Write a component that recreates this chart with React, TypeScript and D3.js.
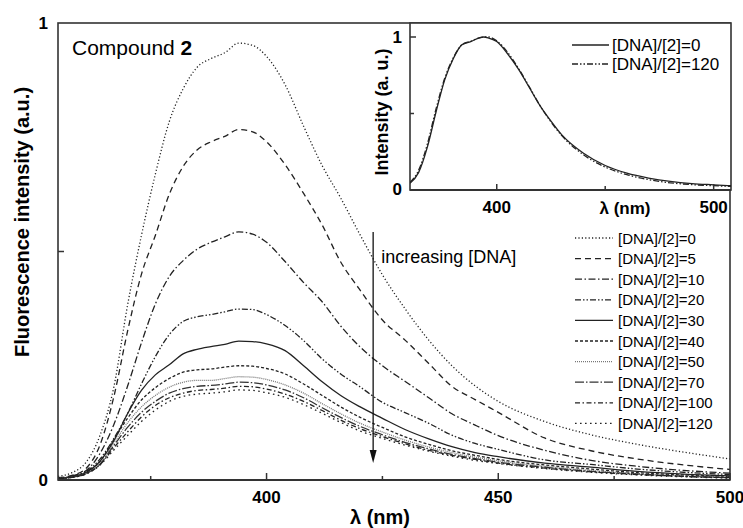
import React from 'react';
import * as d3 from 'd3';

// ---------- data ----------
const wavelengths = [355, 358, 361, 364, 367, 370, 373, 376, 379, 382, 385, 388, 391, 394, 397, 400, 404, 408, 412, 416, 420, 425, 430, 435, 440, 445, 450, 460, 470, 480, 490, 500];
const ratioLabels = ['0', '5', '10', '20', '30', '40', '50', '70', '100', '120'];
const r0 = [0.008, 0.016, 0.038, 0.096, 0.201, 0.382, 0.535, 0.669, 0.784, 0.856, 0.903, 0.922, 0.935, 0.956, 0.951, 0.927, 0.865, 0.774, 0.688, 0.617, 0.540, 0.449, 0.373, 0.306, 0.250, 0.206, 0.172, 0.128, 0.099, 0.078, 0.061, 0.046];
const r5 = [0.005, 0.010, 0.025, 0.075, 0.180, 0.325, 0.450, 0.535, 0.625, 0.686, 0.722, 0.740, 0.752, 0.767, 0.762, 0.740, 0.690, 0.627, 0.558, 0.477, 0.418, 0.350, 0.305, 0.255, 0.205, 0.176, 0.148, 0.092, 0.064, 0.046, 0.033, 0.023];
const r10 = [0.004, 0.009, 0.020, 0.057, 0.120, 0.205, 0.300, 0.385, 0.445, 0.480, 0.505, 0.520, 0.532, 0.543, 0.538, 0.520, 0.478, 0.432, 0.390, 0.337, 0.293, 0.250, 0.215, 0.180, 0.145, 0.120, 0.097, 0.065, 0.043, 0.030, 0.021, 0.015];
const r20 = [0.004, 0.008, 0.018, 0.045, 0.090, 0.145, 0.210, 0.270, 0.318, 0.347, 0.357, 0.362, 0.368, 0.374, 0.373, 0.362, 0.338, 0.305, 0.265, 0.232, 0.205, 0.170, 0.147, 0.124, 0.098, 0.080, 0.067, 0.044, 0.034, 0.024, 0.017, 0.012];
const r30 = [0.003, 0.007, 0.016, 0.040, 0.085, 0.145, 0.196, 0.230, 0.252, 0.276, 0.286, 0.292, 0.297, 0.304, 0.303, 0.298, 0.283, 0.250, 0.215, 0.185, 0.161, 0.135, 0.110, 0.090, 0.073, 0.060, 0.051, 0.037, 0.028, 0.019, 0.013, 0.009];
const r40 = [0.003, 0.007, 0.016, 0.040, 0.088, 0.135, 0.175, 0.202, 0.222, 0.236, 0.241, 0.243, 0.247, 0.250, 0.249, 0.244, 0.232, 0.210, 0.185, 0.160, 0.138, 0.115, 0.094, 0.078, 0.064, 0.054, 0.045, 0.033, 0.024, 0.016, 0.011, 0.008];
const r50 = [0.003, 0.006, 0.014, 0.035, 0.080, 0.125, 0.160, 0.185, 0.203, 0.214, 0.218, 0.218, 0.222, 0.226, 0.225, 0.220, 0.208, 0.190, 0.167, 0.145, 0.125, 0.105, 0.087, 0.072, 0.060, 0.050, 0.042, 0.030, 0.021, 0.014, 0.009, 0.006];
const r70 = [0.003, 0.006, 0.014, 0.034, 0.075, 0.115, 0.148, 0.172, 0.190, 0.200, 0.205, 0.207, 0.210, 0.214, 0.213, 0.208, 0.197, 0.180, 0.158, 0.137, 0.118, 0.099, 0.082, 0.068, 0.056, 0.047, 0.039, 0.028, 0.019, 0.013, 0.008, 0.005];
const r100 = [0.003, 0.006, 0.013, 0.033, 0.070, 0.105, 0.138, 0.163, 0.180, 0.190, 0.196, 0.198, 0.201, 0.205, 0.204, 0.199, 0.188, 0.172, 0.152, 0.131, 0.113, 0.095, 0.079, 0.065, 0.054, 0.045, 0.037, 0.026, 0.018, 0.012, 0.008, 0.005];
const r120 = [0.003, 0.006, 0.013, 0.032, 0.065, 0.097, 0.128, 0.153, 0.172, 0.183, 0.188, 0.190, 0.193, 0.197, 0.196, 0.191, 0.181, 0.165, 0.146, 0.126, 0.108, 0.091, 0.076, 0.063, 0.052, 0.043, 0.036, 0.025, 0.017, 0.011, 0.007, 0.004];
const mainSeries = [r0, r5, r10, r20, r30, r40, r50, r70, r100, r120];

const xTicksMajor = [400, 450, 500];
const xTicksMinor = [375, 425, 475];
const arrowWavelength = 423;

const insetWavelengths = [360, 364, 368, 372, 376, 380, 384, 388, 392, 394, 396, 400, 405, 410, 415, 420, 425, 430, 440, 450, 460, 470, 480, 490, 500, 508];
const inset0 = [0.044, 0.115, 0.28, 0.51, 0.72, 0.86, 0.95, 0.97, 0.995, 1.0, 0.995, 0.97, 0.89, 0.79, 0.67, 0.55, 0.45, 0.36, 0.24, 0.16, 0.11, 0.078, 0.056, 0.042, 0.034, 0.028];
const inset120 = [0.05, 0.13, 0.30, 0.53, 0.73, 0.865, 0.95, 0.972, 0.995, 1.0, 1.0, 0.975, 0.9, 0.795, 0.675, 0.55, 0.445, 0.355, 0.23, 0.15, 0.1, 0.068, 0.047, 0.035, 0.028, 0.024];
const insetLabels = ['0', '120'];
const insetSeries = [inset0, inset120];
const insetXTicksMajor = [400, 500];
const insetXTicksMinor = [450];

// ---------- styles ----------
const mainDashes = ['1.2,2.2', '6,4', '7,2.5,1.5,2.5', '6,2,1.5,2,1.5,2', '', '3,2', '1,1', '9,2,1.5,2', '5,2.5,1.5,2.5', '1.6,3.4'];
const mainColors = ['#222', '#222', '#222', '#222', '#222', '#222', '#777', '#333', '#222', '#222'];
const insetDashes = ['', '6,2,1.5,2,1.5,2'];
const FONT = '"Liberation Sans", Arial, sans-serif';

export default function App() {
  const x = d3.scaleLinear().domain([355, 500]).range([58, 730]);
  const y = d3.scaleLinear().domain([0, 1]).range([480, 23]);
  const ix = d3.scaleLinear().domain([360, 508]).range([410, 731]);
  const iy = d3.scaleLinear().domain([0, 1]).range([190, 37]);

  const line = d3
    .line<number>()
    .x((_, i) => x(wavelengths[i]))
    .y((d) => y(d))
    .curve(d3.curveMonotoneX);
  const iline = d3
    .line<number>()
    .x((_, i) => ix(insetWavelengths[i]))
    .y((d) => iy(d))
    .curve(d3.curveMonotoneX);

  const ax = '#333';
  const legendX = 575;
  const legendY0 = 238;
  const legendStep = 20.6;
  const arrowX = x(arrowWavelength);

  return (
    <svg
      width={743}
      height={528}
      style={{ position: 'absolute', left: 0, top: 0, background: '#fff' }}
      fontFamily={FONT}
    >
      <defs>
        <clipPath id="mainClip">
          <rect x={58} y={23} width={672} height={457} />
        </clipPath>
        <clipPath id="insetClip">
          <rect x={410} y={23} width={321} height={167} />
        </clipPath>
      </defs>
      <rect x={0} y={0} width={743} height={528} fill="#fff" />

      {/* main curves */}
      <g clipPath="url(#mainClip)">
        {mainSeries.map((s, i) => (
          <path
            key={i}
            d={line(s) || ''}
            fill="none"
            stroke={mainColors[i]}
            strokeWidth={1.3}
            strokeDasharray={mainDashes[i] || undefined}
          />
        ))}
      </g>

      {/* main frame */}
      <rect x={58} y={23} width={672} height={457} fill="none" stroke={ax} strokeWidth={1.6} />
      <line x1={58} x2={730} y1={480} y2={480} stroke={ax} strokeWidth={2} />

      {/* x ticks */}
      {xTicksMajor.map((t) => (
        <g key={'xm' + t}>
          <line x1={x(t)} x2={x(t)} y1={480} y2={473} stroke={ax} strokeWidth={1.5} />
          <text x={x(t)} y={503} textAnchor="middle" fontSize={17} fontWeight="bold">
            {t}
          </text>
        </g>
      ))}
      {xTicksMinor.map((t) => (
        <line key={'xn' + t} x1={x(t)} x2={x(t)} y1={480} y2={476} stroke={ax} strokeWidth={1.5} />
      ))}
      {/* y ticks */}
      <line x1={58} x2={64} y1={y(0.5)} y2={y(0.5)} stroke={ax} strokeWidth={1.5} />
      <text x={48} y={y(1) + 6} textAnchor="end" fontSize={17} fontWeight="bold">1</text>
      <text x={48} y={y(0) + 6} textAnchor="end" fontSize={17} fontWeight="bold">0</text>

      {/* axis titles */}
      <text x={350} y={524} fontSize={20} fontWeight="bold">λ (nm)</text>
      <text
        transform={`translate(29, ${222}) rotate(-90)`}
        textAnchor="middle"
        fontSize={20}
        fontWeight="bold"
      >
        Fluorescence intensity (a.u.)
      </text>

      {/* compound label */}
      <text x={72} y={55} fontSize={21}>
        Compound <tspan fontWeight="bold">2</tspan>
      </text>

      {/* arrow annotation */}
      <line x1={arrowX} x2={arrowX} y1={232} y2={452} stroke="#111" strokeWidth={1.3} />
      <path d={`M${arrowX - 3.5},${450} L${arrowX + 3.5},${450} L${arrowX},${463} Z`} fill="#111" />
      <text x={arrowX + 8} y={263} fontSize={18}>increasing [DNA]</text>

      {/* legend */}
      {ratioLabels.map((r, i) => {
        const yy = legendY0 + i * legendStep;
        return (
          <g key={'lg' + r}>
            <line
              x1={legendX}
              x2={legendX + 38}
              y1={yy}
              y2={yy}
              stroke={mainColors[i]}
              strokeWidth={1.3}
              strokeDasharray={mainDashes[i] || undefined}
            />
            <text x={legendX + 43} y={yy + 5.5} fontSize={15}>
              [DNA]/[2]={r}
            </text>
          </g>
        );
      })}

      {/* inset */}
      <rect x={410} y={23} width={321} height={167} fill="#fff" stroke={ax} strokeWidth={1.6} />
      <line x1={410} x2={731} y1={190} y2={190} stroke={ax} strokeWidth={2} />
      <g clipPath="url(#insetClip)">
        {insetSeries.map((s, i) => (
          <path
            key={'in' + i}
            d={iline(s) || ''}
            fill="none"
            stroke="#222"
            strokeWidth={1.3}
            strokeDasharray={insetDashes[i] || undefined}
          />
        ))}
      </g>
      {insetXTicksMajor.map((t) => (
        <g key={'ixm' + t}>
          <line x1={ix(t)} x2={ix(t)} y1={190} y2={184} stroke={ax} strokeWidth={1.5} />
          <text x={ix(t)} y={213} textAnchor="middle" fontSize={17} fontWeight="bold">
            {t}
          </text>
        </g>
      ))}
      {insetXTicksMinor.map((t) => (
        <line key={'ixn' + t} x1={ix(t)} x2={ix(t)} y1={190} y2={186} stroke={ax} strokeWidth={1.5} />
      ))}
      <line x1={410} x2={416} y1={iy(1)} y2={iy(1)} stroke={ax} strokeWidth={1.5} />
      <line x1={410} x2={414} y1={iy(0.5)} y2={iy(0.5)} stroke={ax} strokeWidth={1.5} />
      <text x={402} y={iy(1) + 6} textAnchor="end" fontSize={17} fontWeight="bold">1</text>
      <text x={402} y={iy(0) + 5} textAnchor="end" fontSize={17} fontWeight="bold">0</text>
      <text x={625} y={214} textAnchor="middle" fontSize={17} fontWeight="bold">λ (nm)</text>
      <text
        transform={`translate(388, ${112}) rotate(-90)`}
        textAnchor="middle"
        fontSize={18}
        fontWeight="bold"
      >
        Intensity (a. u.)
      </text>
      {insetLabels.map((r, i) => {
        const yy = 45 + i * 19;
        return (
          <g key={'il' + r}>
            <line
              x1={572}
              x2={609}
              y1={yy}
              y2={yy}
              stroke="#222"
              strokeWidth={1.3}
              strokeDasharray={insetDashes[i] || undefined}
            />
            <text x={612} y={yy + 6} fontSize={17}>
              [DNA]/[2]={r}
            </text>
          </g>
        );
      })}
    </svg>
  );
}
